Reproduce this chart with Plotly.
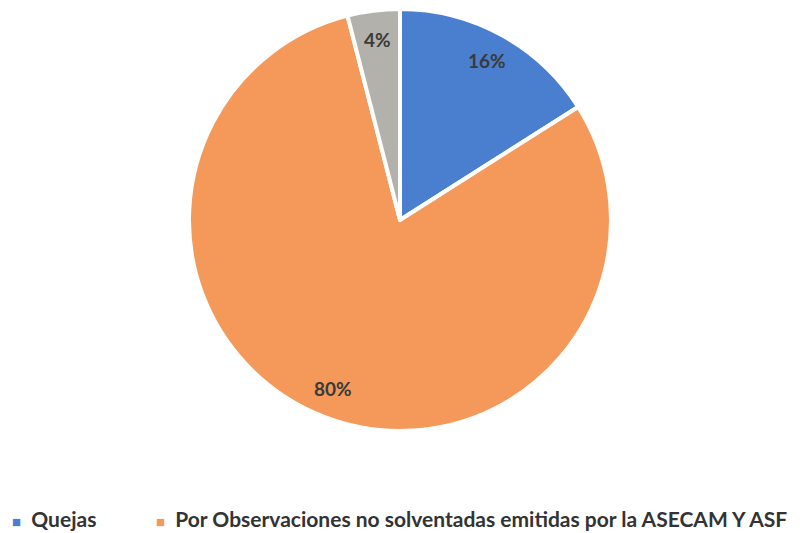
import math
import plotly.graph_objects as go

labels = ["Quejas", "Por Observaciones no solventadas emitidas por la ASECAM Y ASF", "Otros"]
values = [16, 80, 4]
colors = ["#4a7fd0", "#f4995a", "#b3b1ab"]
legend_labels = labels[:2]

W, H = 804, 533
OFF = 8  # page body margin compensation
# pie square centred at (400, 220), radius ~211 px
dom_x = [(189 - OFF) / W, (611 - OFF) / W]
dom_y = [1 - (431 - OFF) / H, 1 - (9 - OFF) / H]

fig = go.Figure()
fig.add_trace(go.Pie(
    labels=labels, values=values, sort=False, direction="clockwise", rotation=0,
    marker=dict(colors=colors, line=dict(color="white", width=4)),
    textinfo="none", showlegend=False, hoverinfo="label+percent",
    domain=dict(x=dom_x, y=dom_y),
))

# percentage labels placed along each slice's mid-angle
cx = (dom_x[0] + dom_x[1]) / 2 * W
cy = (1 - (dom_y[0] + dom_y[1]) / 2) * H
R = min((dom_x[1] - dom_x[0]) * W, (dom_y[1] - dom_y[0]) * H) / 2
total = sum(values)
acc = 0
for v in values:
    mid = (acc + v / 2) / total * 2 * math.pi
    acc += v
    px = cx + 0.86 * R * math.sin(mid)
    py = cy - 0.86 * R * math.cos(mid)
    fig.add_annotation(x=px / W, y=1 - py / H, xref="paper", yref="paper",
                       xanchor="center", yanchor="middle",
                       text=f"{round(v / total * 100)}%", showarrow=False,
                       font=dict(family="Lato", size=19, color="#3a3a3a", weight="bold"))

# legend (two entries, as in the reference)
leg_x = [10, 154]
for lab, col, lx in zip(legend_labels, colors, leg_x):
    fig.add_annotation(
        x=(lx - OFF) / W, y=1 - (519 - OFF) / H, xref="paper", yref="paper",
        xanchor="left", yanchor="middle", showarrow=False,
        text=f"<span style='font-size:15px;color:{col}'>■</span>  {lab}",
        font=dict(family="Lato", size=21, color="#333333", weight="bold"))

fig.update_layout(
    width=W, height=H, margin=dict(l=0, r=0, t=0, b=0),
    paper_bgcolor="white", showlegend=False,
)
fig.write_html("out.html")
